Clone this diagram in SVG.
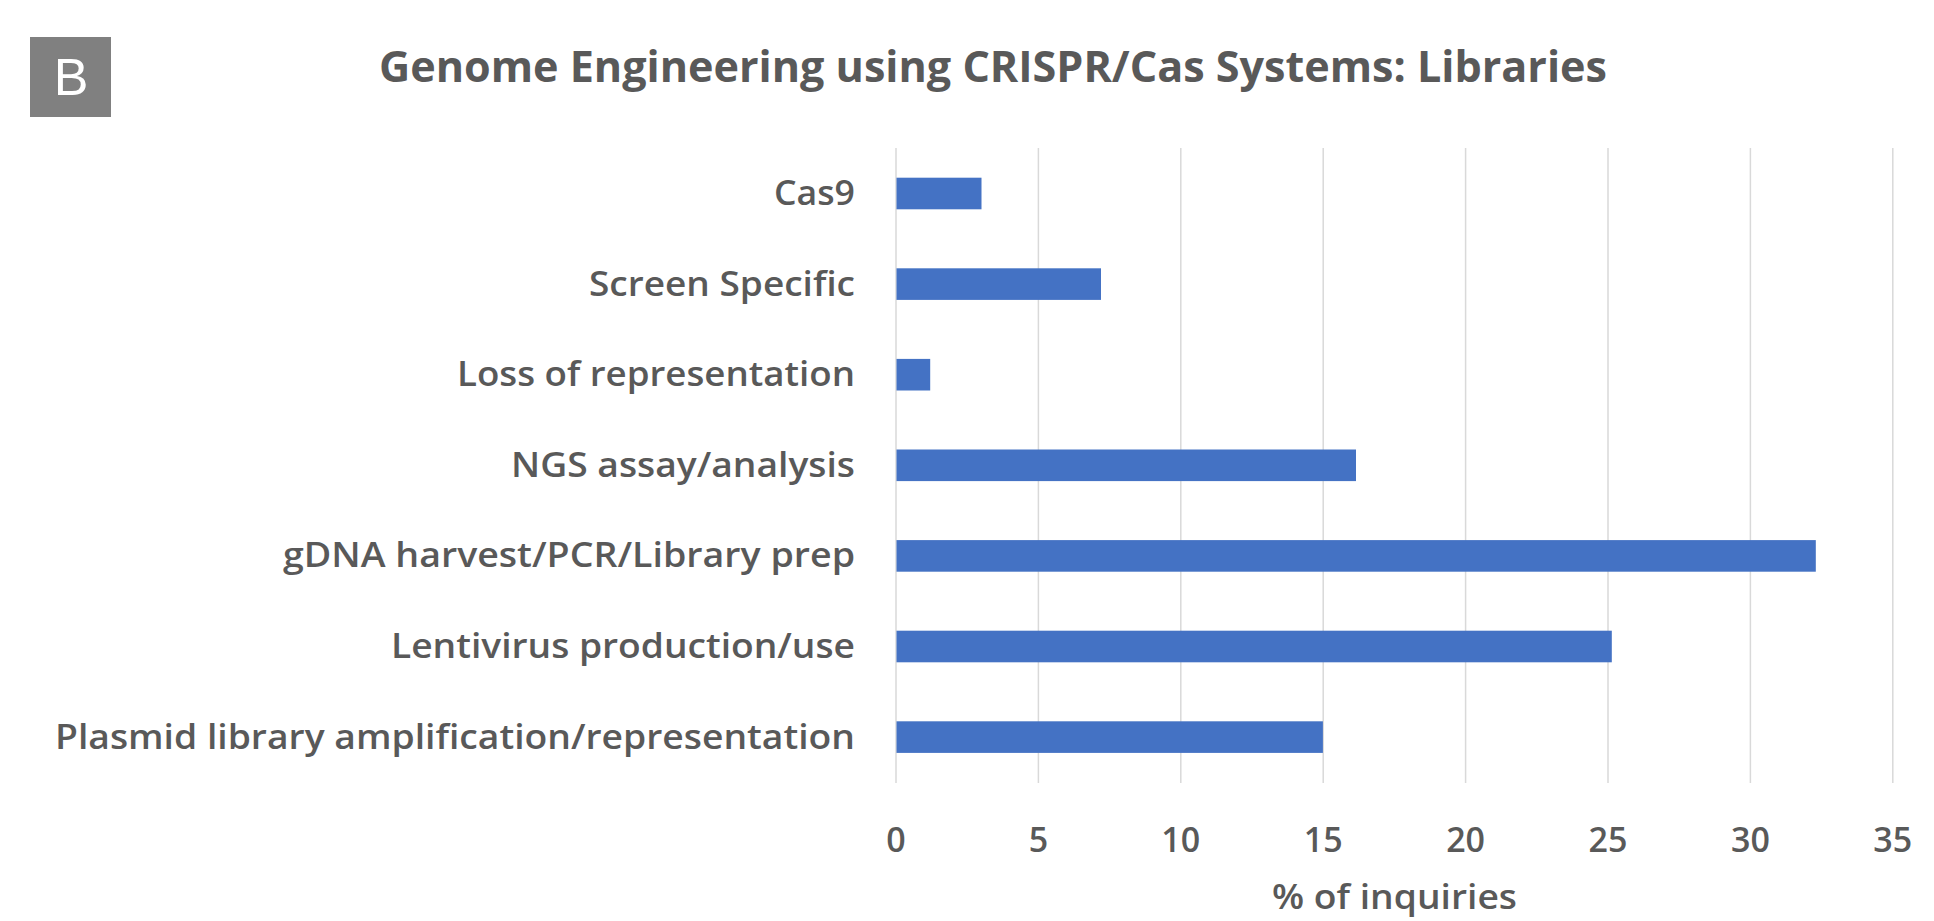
<svg xmlns="http://www.w3.org/2000/svg" width="1934" height="921" viewBox="0 0 1934 921">
<style>
.t{font-family:"Open Sans","Liberation Sans",sans-serif;fill:#595959}
.title{font-size:43px;font-weight:700}
.cat{font-size:35px;font-weight:600;text-anchor:end}
.tick{font-size:34px;font-weight:600;text-anchor:middle}
.axt{font-size:34px;font-weight:600;text-anchor:middle}
.grid line{stroke:#d9d9d9;stroke-width:1.5}
.bar{fill:#4472c4}
</style>
<rect width="1934" height="921" fill="#ffffff"/>
<g id="panel-label">
<rect x="30" y="37" width="81" height="80" fill="#808080"/>
<text x="71" y="95" font-family="Liberation Sans, sans-serif" font-size="52" font-weight="300" fill="#ffffff" text-anchor="middle">B</text>
</g>
<g id="title">
<text class="t title" x="993" y="82" text-anchor="middle" textLength="1228" lengthAdjust="spacingAndGlyphs">Genome Engineering using CRISPR/Cas Systems: Libraries</text>
</g>
<g id="gridlines" class="grid">
<line x1="896" y1="148" x2="896" y2="783"/>
<line x1="1038.4" y1="148" x2="1038.4" y2="783"/>
<line x1="1180.8" y1="148" x2="1180.8" y2="783"/>
<line x1="1323.2" y1="148" x2="1323.2" y2="783"/>
<line x1="1465.6" y1="148" x2="1465.6" y2="783"/>
<line x1="1608" y1="148" x2="1608" y2="783"/>
<line x1="1750.4" y1="148" x2="1750.4" y2="783"/>
<line x1="1892.8" y1="148" x2="1892.8" y2="783"/>
</g>
<g id="x-axis">
<text class="t tick" x="896" y="852">0</text>
<text class="t tick" x="1038.4" y="852">5</text>
<text class="t tick" x="1180.8" y="852">10</text>
<text class="t tick" x="1323.2" y="852">15</text>
<text class="t tick" x="1465.6" y="852">20</text>
<text class="t tick" x="1608" y="852">25</text>
<text class="t tick" x="1750.4" y="852">30</text>
<text class="t tick" x="1892.8" y="852">35</text>
<text class="t axt" x="1394.5" y="909" textLength="245" lengthAdjust="spacingAndGlyphs">% of inquiries</text>
</g>
<g id="cat-cas9">
<rect class="bar" x="896.5" y="177.7" width="85" height="31.6"/>
<text class="t cat" x="855" y="205" textLength="81" lengthAdjust="spacingAndGlyphs">Cas9</text>
</g>
<g id="cat-screen-specific">
<rect class="bar" x="896.5" y="268.3" width="204.5" height="31.6"/>
<text class="t cat" x="855" y="295.6" textLength="266" lengthAdjust="spacingAndGlyphs">Screen Specific</text>
</g>
<g id="cat-loss-of-representation">
<rect class="bar" x="896.5" y="358.9" width="33.7" height="31.6"/>
<text class="t cat" x="855" y="386.2" textLength="398" lengthAdjust="spacingAndGlyphs">Loss of representation</text>
</g>
<g id="cat-ngs">
<rect class="bar" x="896.5" y="449.5" width="459.5" height="31.6"/>
<text class="t cat" x="855" y="476.8" textLength="344" lengthAdjust="spacingAndGlyphs">NGS assay/analysis</text>
</g>
<g id="cat-gdna">
<rect class="bar" x="896.5" y="540.1" width="919.3" height="31.6"/>
<text class="t cat" x="855" y="567.4" textLength="572" lengthAdjust="spacingAndGlyphs">gDNA harvest/PCR/Library prep</text>
</g>
<g id="cat-lentivirus">
<rect class="bar" x="896.5" y="630.7" width="715.3" height="31.6"/>
<text class="t cat" x="855" y="658" textLength="464" lengthAdjust="spacingAndGlyphs">Lentivirus production/use</text>
</g>
<g id="cat-plasmid">
<rect class="bar" x="896.5" y="721.3" width="426.4" height="31.6"/>
<text class="t cat" x="855" y="748.6" textLength="800" lengthAdjust="spacingAndGlyphs">Plasmid library amplification/representation</text>
</g>
</svg>
